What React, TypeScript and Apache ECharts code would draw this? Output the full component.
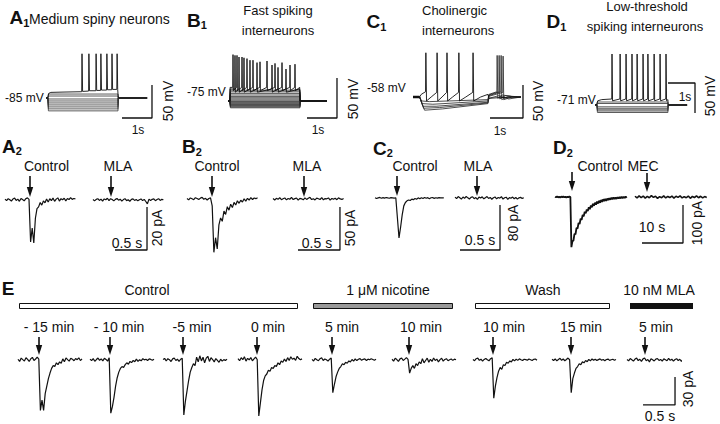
import React, { useEffect, useRef } from "react";
import * as echarts from "echarts";

const FONT = "'Liberation Sans', Arial, Helvetica, sans-serif";
const INK = "#111";

// ---------------- Row 1: current clamp (time s, potential mV) ----------------
// protocol = [step on, step off, sweep end]
const a1Protocol = [0.06, 2.4, 3.37];
const a1Levels = [-79, -82, -86.5, -89.5, -92.5, -95.5, -98.5, -101.5, -104.5];
const a1Spiking = [[0,-85],[0.06,-85],[0.09,-78],[0.16,-76.5],[0.6,-76],[1.19,-75.5],[1.2,-18],[1.22,-75],[1.42,-74.5],[1.43,-18],[1.45,-74],[1.66,-74],[1.67,-18],[1.69,-73.5],[1.82,-73.5],[1.83,-18],[1.85,-73],[2.02,-73],[2.03,-18],[2.05,-72.5],[2.19,-72.5],[2.2,-18],[2.22,-72],[2.36,-72],[2.37,-18],[2.39,-72],[2.4,-72],[2.41,-85],[3.37,-85]];

const b1Protocol = [0.06, 2.4, 3.3];
const b1Levels = [-61.5, -63.5, -65.5, -67.5, -69.5, -71, -72.5, -74, -75.5, -76.5, -77.5, -78.5, -79.5, -80.5, -81.5, -82.5, -83.5];
const b1SpikingA = [[0,-75],[0.06,-75],[0.07,-58],[0.157,-58],[0.167,-17],[0.18,-62],[0.29,-58],[0.3,-18],[0.313,-62],[0.457,-58],[0.467,-20],[0.48,-62],[0.623,-58],[0.633,-22],[0.646,-62],[0.823,-58],[0.833,-24],[0.846,-62],[1.057,-58],[1.067,-26],[1.08,-62],[1.29,-58],[1.3,-25],[1.313,-62],[1.557,-58],[1.567,-28],[1.58,-62],[1.79,-58],[1.8,-27],[1.813,-62],[2.057,-58],[2.067,-30],[2.08,-62],[2.223,-58],[2.233,-29],[2.246,-62],[2.39,-58],[2.4,-75],[3.3,-75]];
const b1SpikingB = [[0,-75],[0.06,-75],[0.07,-60],[0.223,-60],[0.233,-18],[0.246,-64],[0.357,-60],[0.367,-20],[0.38,-64],[0.523,-60],[0.533,-21],[0.546,-64],[0.723,-60],[0.733,-24],[0.746,-64],[0.957,-60],[0.967,-27],[0.98,-64],[1.457,-60],[1.467,-30],[1.48,-64],[1.657,-60],[1.667,-33],[1.68,-64],[1.923,-60],[1.933,-35],[1.946,-64],[2.39,-60],[2.4,-75],[3.3,-75]];

const c1Sweep1 = [[0,-58],[0.2,-58],[0.26,-64],[0.5,-65],[2.27,-62],[2.3,-54],[2.54,-50],[2.55,5],[2.57,-60],[2.7,-55],[3.0,-57],[3.27,-58]];
const c1Sweep2 = [[0,-58],[0.2,-58],[0.28,-68],[0.6,-69],[2.27,-64],[2.3,-55],[2.6,-50],[2.61,5],[2.63,-61],[2.8,-56],[3.1,-58],[3.27,-58]];
const c1Sweep3 = [[0,-58],[0.2,-58],[0.3,-72],[0.7,-72],[2.27,-66],[2.3,-56],[2.66,-50],[2.67,5],[2.69,-62],[2.9,-57],[3.27,-58]];
const c1Sweep4 = [[0,-58],[0.2,-58],[0.32,-75],[0.8,-74],[2.27,-67],[2.3,-57],[2.72,-51],[2.73,4],[2.75,-62],[3.0,-58],[3.27,-58]];
const c1Sweep5 = [[0,-58],[0.2,-58],[0.35,-78],[0.9,-76],[2.27,-68],[2.3,-60],[2.6,-56],[2.9,-61],[3.27,-58]];
const c1Spiking = [[0,-58],[0.2,-58],[0.25,-54],[0.38,-50],[0.39,9],[0.41,-64],[0.55,-58],[0.72,-51],[0.73,9],[0.75,-64],[0.88,-58],[1.02,-51],[1.03,9],[1.05,-64],[1.2,-58],[1.38,-51],[1.39,9],[1.41,-64],[1.6,-58],[1.81,-51],[1.82,9],[1.84,-64],[2.05,-58],[2.27,-54],[2.3,-60],[2.6,-59],[3.27,-58]];

const d1Protocol = [0.07, 2.7, 3.41];
const d1Levels = [-66, -68.5, -74, -76.5, -79, -81, -83.5];
const d1Spiking = [[0,-71],[0.06,-71],[0.1,-64],[0.25,-62],[0.62,-61],[0.63,14],[0.65,-64],[0.92,-61],[0.93,14],[0.95,-64],[1.14,-61],[1.15,14],[1.17,-64],[1.36,-61],[1.37,14],[1.39,-64],[1.55,-61],[1.56,14],[1.58,-64],[1.77,-61],[1.78,14],[1.8,-64],[1.95,-61],[1.96,14],[1.98,-64],[2.18,-61],[2.19,14],[2.21,-64],[2.4,-61],[2.41,14],[2.43,-64],[2.62,-61],[2.63,14],[2.65,-64],[2.7,-62],[2.71,-71],[3.41,-71]];

// ---------------- Row 2: evoked currents (pA) ----------------
const a2Control = [0.4,-0.3,0.6,0.1,-0.5,0.5,0.9,-0.2,0.4,-0.6,0.7,0.2,-0.4,0.6,1.0,0.3,-19.5,-13,-20,-8.5,-4,-3.2,-1.2,-2.4,-0.4,-1.3,0.5,-0.9,0.6,-0.3,0.9,-0.6,0.4,1.0,-0.5,0.6,0.1,0.8,-0.4,0.7,0.2,1.1,0.3,0.7,0.5];
const a2Mla = [0.2,-0.4,0.3,0.6,-0.2,0.4,-0.5,0.5,0.1,0.8,-0.3,0.6,0.2,-0.4,0.3,0.7,-0.1,0.4,-0.5,0.2,0.6,-0.3,0.1,-0.6,0.3,0.5,-0.2,0.2,-0.4,0.1,0.5,-0.3,0.3,-0.7,-1.8,0.4,-0.2,0.3,0.5,-0.3,0.2,0.6,-0.2,0.3,0.1];
const b2Control = [0.5,-1,1.2,0.3,-0.8,1.5,0.6,-0.5,1,2,-0.3,0.8,-1.2,0.6,1.3,-8,-62,-45,-58,-30,-22,-26,-14,-18,-9,-13,-6,-10,-4,-7,-2,-5,-1.5,-3.5,0.2,-2.5,0.8,-1.2,1.5,-0.6,1.2,0.4,1.5];
const b2Mla = [0.5,-1.2,0.8,-0.4,1.5,-0.8,0.3,1.2,-1,0.6,-0.3,1.8,-0.6,0.4,1.1,-1.4,0.7,0.2,-0.9,1.3,-0.5,0.9,2,-0.7,0.4,-1.1,1,0.3,-0.6,1.6,-0.9,0.5,0.2,1.2,-1.3,0.6,-0.2,0.9,-0.8,1.4,0.1,-0.5,0.7];
const c2Control = [0.5,-0.8,0.3,1.0,-0.4,0.6,-0.2,0.8,0.1,-0.5,0.7,0.3,-0.3,0.4,-35,-71,-52,-30,-14,-8,-5,-3.5,-4.5,-2,-3,-1,-2.2,0.3,-1.5,0.5,-0.8,0.9,-0.4,0.6,-1.2,0.4,0.8,-0.6,0.5,-0.2,0.7,0.2,0.4,0.1];
const c2Mla = [1.5,-1,2.5,0.5,-2,1.8,-0.5,2.8,0.3,-1.8,1.2,2.2,-1.2,0.8,-2.5,1.5,0.2,2,-1.5,0.6,2.6,-0.8,1,-2.2,0.4,1.8,-1.6,0.9,-0.3,2.3,-1.9,0.5,1.4,-2.6,0.7,-0.4,1.6,-1.3,0.9,-2,0.3,1.1,-0.7,0.5];
const d2Control = [0.8,-0.6,1.1,-0.9,0.5,-1.2,0.9,-0.4,1.0,-0.8,0.6,-1.1,0.7,-0.5,1.2,-0.3,-132,-116,-115,-97,-98,-81,-83,-68,-71,-57,-60,-47,-51,-39,-43,-33,-37,-27,-32,-22,-27,-18,-23,-15,-20,-12,-17,-10,-15,-8,-13,-6,-11,-5,-10,-4,-8,-3,-7,-2,-6,-1.5,-5.5,-1,-5,-0.5,-4,0,-3.5,0.5,-3,0.5,-2.5,1,-2];
const d2Mec = [2,-2.5,3,-1.5,2.5,-3,1.5,-2,3.5,-1,2,-3.5,1,-2,3,-2.5,1.5,-1.5,2.5,-3,2,-1,3,-2.5,1,-2,2.5,-3.5,1.5,-1.5,3,-2,2,-2.5,1,-1];

// ---------------- Row E: time course (pA) ----------------
const eTimeLabels = ["- 15 min", "- 10 min", "-5 min", "0 min", "5 min", "10 min", "10 min", "15 min", "5 min"];
const e1 = [0.8,-1.5,2,0.4,-1,2.4,0.6,-1.6,1.4,2.8,-0.6,1.1,3,0.9,-54,-43,-54,-36,-28,-20,-14,-9,-6,-7,-3,-5,-2,-3.5,1.2,-1.8,2.2,0.4,-1.2,1.8,0.9,-0.8,1.5,0.3,2.4,-0.6,1.3];
const e2 = [0.9,-0.6,1.5,-1.4,0.5,2.1,-0.3,1.2,-0.9,1.8,0.6,-1.2,2.4,-57,-50,-40,-28,-19,-13,-9,-7,-8,-5,-3,-4.5,-1.5,-2.8,-0.5,-1.8,0.9,-1.5,0.3,-0.9,1.4,0.2,0.8,-0.5,1.2,0.6,-0.3,0.9];
const e3 = [0.5,1.7,-1.1,1.4,0.3,-1.6,1.2,2.1,-0.5,0.9,-1.4,0.8,1.8,-59,-44,-33,-22,-13,-8,-4,-6,3,-2,4.5,-1,3,-3,2,4,-1.5,2.5,0.5,-2,1.5,-0.5,-2.5,0.8,-1.2,0.4,-0.6,1];
const e4 = [1.5,-0.8,2.5,0.3,3.5,-1.2,1.8,0.2,2.6,-0.9,1.2,3,0.5,-60,-46,-32,-22,-17,-15,-11,-12,-8,-9,-6,-7,-3,-5,-1,-2.5,1,-1.5,2.5,-0.5,3.5,0.8,2,-0.4,4,1.5,0.2,1.2];
const e5 = [0.6,-1.1,1.7,0.3,-0.8,1.4,2.4,-0.5,1.1,0.2,-1.2,0.9,2.1,-35,-26,-18,-13,-9,-7,-4,-5,-2.5,-3.5,-1,-2,0.5,-1.2,1.1,-0.6,0.8,1.5,-0.3,0.7,1.2,-0.5,0.9,0.3,1.4,0.6,-0.2,0.8];
const e6 = [0.8,-1.2,1.8,0.5,-1.5,1.2,2.2,-0.6,0.9,2.5,0.6,-14,-9,-6,-9,-4,-6,-2,-4,1.5,-3,-0.5,2,-2.5,0.8,-1.5,2.2,-0.6,1,-2,0.4,1.8,-1.2,0.6,1.4,-0.8,0.3,1.1,-0.4,0.9,0.2];
const e7 = [0.5,-0.8,1.4,2.1,-0.3,0.9,-1.2,0.6,1.7,0.3,-0.9,1.4,2.4,-41,-28,-19,-12,-8,-10,-5,-6,-2.5,-3.5,-1,-2,0.6,-1,0.9,-0.4,1.2,0.2,-0.6,0.8,0.4,-0.3,1,0.3,-0.5,0.7,1.1,-0.2];
const e8 = [0.8,-0.5,1.2,-0.9,0.6,1.8,-0.3,1.1,-0.8,0.5,2.1,0.3,-35,-20,-14,-9,-7,-4,-5,-2,-3,-0.5,-1.8,0.6,-0.9,1.1,-0.3,0.8,-0.6,0.4,1.2,-0.2,0.6,-0.8,0.5,1,-0.4,0.3,0.8,-0.2,0.5];
const e9 = [0.6,-0.9,1.5,0.3,-1.2,1,2,-0.6,0.8,-1.5,1.2,2.2,-0.8,0.5,-2,1.4,0.3,-1,0.9,1.6,-0.5,0.6,-1.3,1.2,0.2,-0.8,1.8,-0.3,0.9,-1.2,0.5,1.4,-0.6,0.8,-1.6,1,0.3,-0.5,1.2,-0.9,0.6];
const eTraces = [e1, e2, e3, e4, e5, e6, e7, e8, e9];
const eStarts = [0, 1.125, 2.266, 3.4375, 4.594, 5.844, 7.109, 8.344, 9.516];

// ---------------- layout frames (pixel origin, px per unit) ----------------
type Frame = { ox: number; oy: number; pxX: number; pxY: number; w: number; up: number; down: number; base: number };
const FR: Record<string, Frame> = {
  a1: { ox: 46, oy: 98, pxX: 30, pxY: 0.66, w: 112, up: 50, down: 25, base: -85 },
  b1: { ox: 228, oy: 101, pxX: 30, pxY: 0.8, w: 112, up: 53, down: 22, base: -75 },
  c1: { ox: 413, oy: 97, pxX: 33, pxY: 0.66, w: 112, up: 50, down: 25, base: -58 },
  d1: { ox: 595, oy: 105, pxX: 27, pxY: 0.6, w: 104, up: 57, down: 13, base: -71 },
  a2: { ox: 5, oy: 200, pxX: 64, pxY: 2.15, w: 162, up: 6, down: 55, base: 0 },
  b2: { ox: 187, oy: 199, pxX: 84, pxY: 0.86, w: 160, up: 6, down: 56, base: 0 },
  c2: { ox: 375, oy: 198, pxX: 80, pxY: 0.5625, w: 152, up: 6, down: 56, base: 0 },
  d2: { ox: 555, oy: 197, pxX: 4.1, pxY: 0.38, w: 155, up: 6, down: 52, base: 0 },
  e: { ox: 18, oy: 360, pxX: 64, pxY: 0.933, w: 662, up: 6, down: 50, base: 0 },
};

const bars: Record<string, number[][]> = {
  a1: [[2.533,-115.3],[3.533,-115.3],[3.533,-65.3]],
  b1: [[2.633,-96.25],[3.633,-96.25],[3.633,-46.25]],
  c1: [[2.333,-89.8],[3.333,-89.8],[3.333,-39.8]],
  d1: [[2.704,-34.3],[3.704,-34.3],[3.704,-84.3]],
  a2: [[1.719,-23.26],[2.219,-23.26],[2.219,-3.26]],
  b2: [[1.321,-59.3],[1.821,-59.3],[1.821,-9.3]],
  c2: [[1.0625,-92.4],[1.5625,-92.4],[1.5625,-12.4]],
  d2: [[21.22,-121],[31.22,-121],[31.22,-21]],
  e: [[9.766,-48.2],[10.266,-48.2],[10.266,-18.2]],
};

function buildOption() {
  const grids: any[] = [];
  const xAxes: any[] = [];
  const yAxes: any[] = [];
  const series: any[] = [];
  const idx: Record<string, number> = {};
  Object.keys(FR).forEach((k) => {
    const f = FR[k];
    const i = grids.length;
    idx[k] = i;
    grids.push({ left: f.ox, top: f.oy - f.up, width: f.w, height: f.up + f.down, show: false });
    xAxes.push({ type: "value", gridIndex: i, min: 0, max: f.w / f.pxX, show: false });
    yAxes.push({ type: "value", gridIndex: i, min: f.base - f.down / f.pxY, max: f.base + f.up / f.pxY, show: false });
  });
  const line = (k: string, data: number[][], width = 1.2, color = INK) =>
    series.push({
      type: "line", xAxisIndex: idx[k], yAxisIndex: idx[k], data, symbol: "none",
      silent: true, clip: false, animation: false, lineStyle: { width, color },
    });
  const sampled = (vals: number[], t0: number, dt: number) => vals.map((v, i) => [t0 + i * dt, v]);
  const step = (base: number, p: number[], L: number) => [[0, base], [p[0], base], [p[0] + 0.02, L], [p[1], L], [p[1] + 0.01, base], [p[2], base]];

  // row 1
  a1Levels.forEach((L) => line("a1", step(-85, a1Protocol, L), 0.8, "#333"));
  line("a1", a1Spiking, 0.9);
  b1Levels.forEach((L) => line("b1", step(-75, b1Protocol, L), 0.8, "#2a2a2a"));
  line("b1", b1SpikingA, 0.9);
  line("b1", b1SpikingB, 0.9);
  [c1Sweep1, c1Sweep2, c1Sweep3, c1Sweep4, c1Sweep5].forEach((s) => line("c1", s, 0.8, "#222"));
  line("c1", c1Spiking, 0.9);
  line("c1", [[0, -58], [0.2, -58]], 2.5);
  d1Levels.forEach((L) => line("d1", step(-71, d1Protocol, L), 0.8, "#333"));
  line("d1", d1Spiking, 0.9);

  // row 2
  line("a2", sampled(a2Control, 0, 0.025));
  line("a2", sampled(a2Mla, 1.375, 0.025));
  line("b2", sampled(b2Control, 0, 0.02));
  line("b2", sampled(b2Mla, 1.024, 0.02));
  line("c2", sampled(c2Control, 0, 0.02));
  line("c2", sampled(c2Mla, 1.0, 0.02));
  line("d2", sampled(d2Control, 0, 0.25), 1.8);
  line("d2", sampled(d2Mec, 19.51, 0.5), 1.6);

  // row E
  eTraces.forEach((tr, i) => line("e", sampled(tr, eStarts[i], 0.025)));

  // scale bars
  Object.keys(bars).forEach((k) => line(k, bars[k], 1.3));

  return { grids, xAxes, yAxes, series };
}

const txt = (text: string, x: number, y: number, size: number, o: any = {}) => ({
  type: "text", x, y, rotation: o.rot || 0, silent: true,
  style: {
    text, fontSize: size, fontFamily: FONT, fontWeight: o.bold ? "bold" : "normal",
    fill: INK, align: o.align || "center", verticalAlign: "middle",
  },
});

const arrow = (x: number, y1: number, y2: number) => [
  { type: "line", silent: true, shape: { x1: x, y1, x2: x, y2: y2 - 6 }, style: { stroke: INK, lineWidth: 1.6 } },
  { type: "polygon", silent: true, shape: { points: [[x - 3.2, y2 - 10], [x + 3.2, y2 - 10], [x, y2]] }, style: { fill: INK } },
];

// bold panel letter, left-aligned, followed by a small bold subscript
const panelLabel = (letter: string, sub: string, x: number, y: number) => [
  txt(letter, x, y, 19, { bold: true, align: "left" }),
  txt(sub, x + 13.8, y + 5, 11, { bold: true, align: "left" }),
];

function buildGraphics() {
  const g: any[] = [];
  const U = Math.PI / 2;
  // row 1 headings
  g.push(...panelLabel("A", "1", 9.5, 17.5));
  g.push(txt("Medium spiny neurons", 29, 19, 14, { align: "left" }));
  g.push(...panelLabel("B", "1", 187, 20));
  g.push(txt("Fast spiking", 278, 10, 13));
  g.push(txt("interneurons", 278, 30, 13));
  g.push(...panelLabel("C", "1", 366.5, 21.5));
  g.push(txt("Cholinergic", 422, 10, 13, { align: "left" }));
  g.push(txt("interneurons", 422, 30, 13, { align: "left" }));
  g.push(...panelLabel("D", "1", 546.5, 21.5));
  g.push(txt("Low-threshold", 647, 6, 13));
  g.push(txt("spiking interneurons", 645, 26, 13));
  // row 1 potentials and scale labels
  g.push(txt("-85 mV", 5, 98, 12, { align: "left" }));
  g.push(txt("-75 mV", 187, 92, 12, { align: "left" }));
  g.push(txt("-58 mV", 367, 88, 12, { align: "left" }));
  g.push(txt("-71 mV", 557, 100, 12, { align: "left" }));
  g.push(txt("1s", 138, 130, 12));
  g.push(txt("1s", 318, 130, 12));
  g.push(txt("1s", 500, 131, 12));
  g.push(txt("1s", 685, 97, 12));
  g.push(txt("50 mV", 168, 101, 14, { rot: U }));
  g.push(txt("50 mV", 353, 99, 14, { rot: U }));
  g.push(txt("50 mV", 538, 101, 14, { rot: U }));
  g.push(txt("50 mV", 710, 96, 14, { rot: U }));

  // row 2
  g.push(...panelLabel("A", "2", 2, 146));
  g.push(...panelLabel("B", "2", 182, 146.5));
  g.push(...panelLabel("C", "2", 373, 148));
  g.push(...panelLabel("D", "2", 553, 147.5));
  g.push(txt("Control", 46.5, 166, 14));
  g.push(txt("MLA", 118, 166, 14));
  g.push(txt("Control", 217, 166, 14));
  g.push(txt("MLA", 307, 166, 14));
  g.push(txt("Control", 415, 166, 14));
  g.push(txt("MLA", 478, 166, 14));
  g.push(txt("Control", 600, 166, 14));
  g.push(txt("MEC", 643, 166, 14));
  g.push(...arrow(30, 176, 197), ...arrow(111, 176, 197));
  g.push(...arrow(212, 176, 197), ...arrow(304, 176, 197));
  g.push(...arrow(397, 176, 196), ...arrow(477, 176, 196));
  g.push(...arrow(572, 172, 191), ...arrow(647, 173, 192));
  g.push(txt("0.5 s", 127, 243, 14));
  g.push(txt("0.5 s", 317, 243, 14));
  g.push(txt("0.5 s", 480, 240, 14));
  g.push(txt("10 s", 652, 227, 14));
  g.push(txt("20 pA", 157, 228, 14, { rot: U }));
  g.push(txt("50 pA", 350, 228, 14, { rot: U }));
  g.push(txt("80 pA", 513, 223, 14, { rot: U }));
  g.push(txt("100 pA", 697, 223, 14, { rot: U }));

  // row E
  g.push(txt("E", 8, 288, 19, { bold: true }));
  g.push(txt("Control", 147, 290, 14));
  g.push(txt("1 μM nicotine", 388, 290, 14));
  g.push(txt("Wash", 543, 290, 14));
  g.push(txt("10 nM MLA", 659, 290, 14));
  g.push({ type: "rect", silent: true, shape: { x: 19.5, y: 303.5, width: 278, height: 5 }, style: { fill: "#fff", stroke: INK, lineWidth: 1 } });
  g.push({ type: "rect", silent: true, shape: { x: 313.5, y: 303.5, width: 139, height: 5 }, style: { fill: "#999", stroke: INK, lineWidth: 1 } });
  g.push({ type: "rect", silent: true, shape: { x: 475.5, y: 303.5, width: 134, height: 5 }, style: { fill: "#fff", stroke: INK, lineWidth: 1 } });
  g.push({ type: "rect", silent: true, shape: { x: 630, y: 303, width: 63, height: 6 }, style: { fill: INK } });
  const labelX = [49, 119, 192, 268, 342, 421, 504, 581, 656];
  const arrowX = [39, 110, 183, 257, 332, 409, 493, 571, 645];
  eTimeLabels.forEach((s, i) => g.push(txt(s, labelX[i], 327, 14)));
  arrowX.forEach((x) => g.push(...arrow(x, 337, 355)));
  g.push(txt("0.5 s", 660, 416, 14));
  g.push(txt("30 pA", 688, 389, 14, { rot: U }));
  return g;
}

export default function App() {
  const ref = useRef<HTMLDivElement>(null);
  useEffect(() => {
    if (!ref.current) return;
    const chart = echarts.init(ref.current, undefined, { renderer: "svg" });
    const { grids, xAxes, yAxes, series } = buildOption();
    chart.setOption({
      animation: false,
      backgroundColor: "#fff",
      grid: grids,
      xAxis: xAxes,
      yAxis: yAxes,
      series,
      graphic: { elements: buildGraphics() },
    });
    return () => chart.dispose();
  }, []);
  return (
    <div
      ref={ref}
      style={{ position: "absolute", left: 0, top: 0, width: 720, height: 424, background: "#fff" }}
    />
  );
}
